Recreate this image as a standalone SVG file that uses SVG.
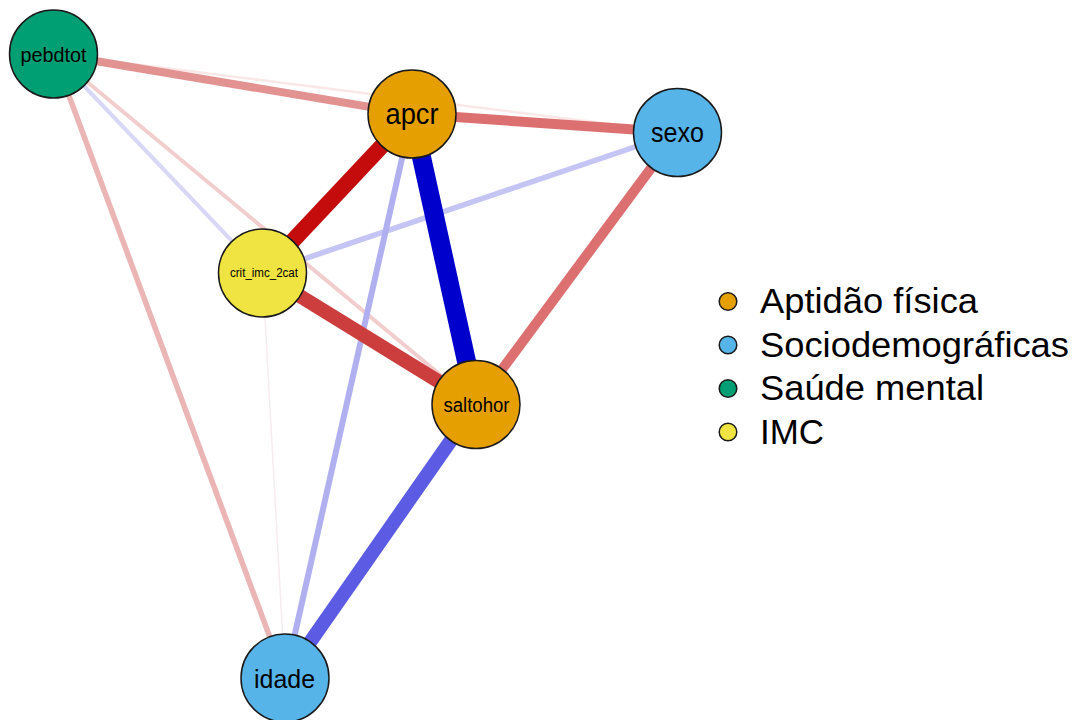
<svg xmlns="http://www.w3.org/2000/svg" width="1078" height="720" viewBox="0 0 1078 720">
<style>
.edge{fill:none;stroke-linecap:butt}
.node circle{stroke:#1a1a1a;stroke-width:1.5}
.lbl{font-family:"Liberation Sans",Arial,sans-serif;fill:#000;text-anchor:middle}
.leg{font-family:"Liberation Sans",Arial,sans-serif;fill:#000;font-size:35px}
.legc{stroke:#1a1a1a;stroke-width:1.5}
.fis{fill:#E69F00}.soc{fill:#56B4E9}.men{fill:#009E73}.imc{fill:#F0E442}
</style>
<rect width="1078" height="720" fill="#fff"/>
<g id="connectors">
<line class="edge" x1="262.5" y1="273" x2="285" y2="678" stroke="#F6ECEF" stroke-width="1.5"/>
<line class="edge" x1="53.5" y1="54" x2="677.5" y2="132.5" stroke="#FAE8E8" stroke-width="2.5"/>
<line class="edge" x1="53.5" y1="54" x2="262.5" y2="273" stroke="#D8D8F6" stroke-width="4"/>
<line class="edge" x1="53.5" y1="54" x2="476" y2="404.5" stroke="#F2CDCD" stroke-width="4"/>
<line class="edge" x1="53.5" y1="54" x2="285" y2="678" stroke="#EBB5B5" stroke-width="5.5"/>
<line class="edge" x1="677.5" y1="132.5" x2="262.5" y2="273" stroke="#C4C4F5" stroke-width="5.5"/>
<line class="edge" x1="412" y1="114" x2="285" y2="678" stroke="#B0B0F0" stroke-width="6"/>
<line class="edge" x1="53.5" y1="54" x2="412" y2="114" stroke="#E39292" stroke-width="8"/>
<line class="edge" x1="412" y1="114" x2="677.5" y2="132.5" stroke="#DC7070" stroke-width="10"/>
<line class="edge" x1="677.5" y1="132.5" x2="476" y2="404.5" stroke="#DC7070" stroke-width="10"/>
<line class="edge" x1="262.5" y1="273" x2="476" y2="404.5" stroke="#CC3E3E" stroke-width="14"/>
<line class="edge" x1="476" y1="404.5" x2="285" y2="678" stroke="#5B5BE3" stroke-width="14"/>
<line class="edge" x1="412" y1="114" x2="262.5" y2="273" stroke="#C40C0C" stroke-width="16"/>
<line class="edge" x1="412" y1="114" x2="476" y2="404.5" stroke="#0000CC" stroke-width="19"/>
</g>
<g id="node-pebdtot" class="node"><circle class="men" cx="53.5" cy="54" r="44"/><text class="lbl" x="53.5" y="61.5" font-size="20" textLength="66" lengthAdjust="spacingAndGlyphs">pebdtot</text></g>
<g id="node-apcr" class="node"><circle class="fis" cx="412" cy="114" r="44"/><text class="lbl" x="412" y="124.3" font-size="30" textLength="53" lengthAdjust="spacingAndGlyphs">apcr</text></g>
<g id="node-sexo" class="node"><circle class="soc" cx="677.5" cy="132.5" r="44"/><text class="lbl" x="677.5" y="141.7" font-size="28" textLength="53" lengthAdjust="spacingAndGlyphs">sexo</text></g>
<g id="node-crit_imc_2cat" class="node"><circle class="imc" cx="262.5" cy="273" r="44"/><text class="lbl" x="264" y="277" font-size="12" textLength="68" lengthAdjust="spacingAndGlyphs">crit_imc_2cat</text></g>
<g id="node-saltohor" class="node"><circle class="fis" cx="476" cy="404.5" r="44"/><text class="lbl" x="476.5" y="412" font-size="20" textLength="66" lengthAdjust="spacingAndGlyphs">saltohor</text></g>
<g id="node-idade" class="node"><circle class="soc" cx="285" cy="678" r="44"/><text class="lbl" x="284.5" y="688.3" font-size="26" textLength="61" lengthAdjust="spacingAndGlyphs">idade</text></g>
<g id="legend">
<circle class="legc fis" cx="728" cy="301.5" r="8.8"/>
<text class="leg" x="760" y="313" textLength="218" lengthAdjust="spacingAndGlyphs">Aptidão física</text>
<circle class="legc soc" cx="728" cy="345" r="8.8"/>
<text class="leg" x="760" y="356.5" textLength="309" lengthAdjust="spacingAndGlyphs">Sociodemográficas</text>
<circle class="legc men" cx="728" cy="388.5" r="8.8"/>
<text class="leg" x="760" y="400" textLength="224" lengthAdjust="spacingAndGlyphs">Saúde mental</text>
<circle class="legc imc" cx="728" cy="432" r="8.8"/>
<text class="leg" x="760" y="443.5" textLength="64" lengthAdjust="spacingAndGlyphs">IMC</text>
</g>
</svg>
